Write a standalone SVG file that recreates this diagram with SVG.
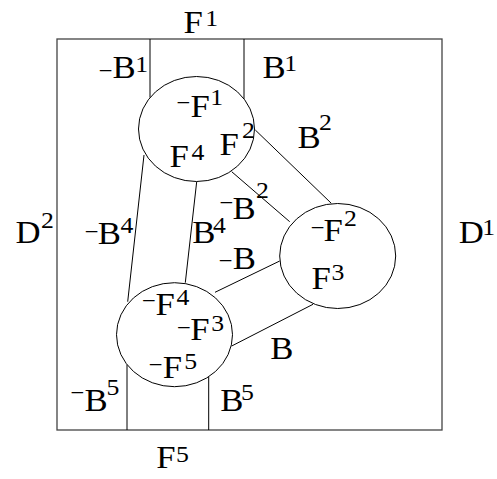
<svg xmlns="http://www.w3.org/2000/svg" width="497" height="479" viewBox="0 0 497 479">
<style>
.t{font-family:"Liberation Serif","Times New Roman",serif;font-size:31px;fill:#000}
.s{font-size:23px}
.d{font-size:20px}
.ln{stroke:#000;stroke-width:1;fill:none}
.fr{stroke:#444;stroke-width:1.3;fill:none}
.nd{stroke:#000;stroke-width:1;fill:#fff}
</style>
<g id="frame">
<rect class="fr" x="57" y="39" width="385" height="391"/>
<line class="ln" x1="150" y1="39" x2="150" y2="97.6"/>
<line class="ln" x1="244" y1="39" x2="244" y2="98.9"/>
<line class="ln" x1="127" y1="364.5" x2="127" y2="430"/>
<line class="ln" x1="208.7" y1="376.7" x2="208.7" y2="430"/>
</g>
<g id="connectors">
<line class="ln" x1="144" y1="155" x2="127.7" y2="301.7"/>
<line class="ln" x1="196.7" y1="181.7" x2="185.3" y2="282.7"/>
<line class="ln" x1="255.3" y1="130" x2="331.3" y2="203.3"/>
<line class="ln" x1="231.7" y1="171.7" x2="289.7" y2="221.7"/>
<line class="ln" x1="215" y1="292.3" x2="279.7" y2="261"/>
<line class="ln" x1="231.7" y1="346" x2="313" y2="304.3"/>
</g>
<g id="node1">
<ellipse class="nd" cx="196.5" cy="129" rx="58" ry="52.5"/>
<text class="t" transform="scale(1.12,1)"><tspan class="d" x="158.7" y="107.7">–</tspan><tspan x="170.1" y="116.7">F</tspan><tspan class="s" x="187.8" y="105">1</tspan></text>
<text class="t" transform="scale(1.12,1)"><tspan x="151.3" y="166.7">F</tspan><tspan class="s" x="170.9" y="160">4</tspan></text>
<text class="t" transform="scale(1.12,1)"><tspan x="196" y="155">F</tspan><tspan class="s" x="216.1" y="138">2</tspan></text>
</g>
<g id="node2">
<ellipse class="nd" cx="337.7" cy="256" rx="58" ry="52.5"/>
<text class="t" transform="scale(1.12,1)"><tspan class="d" x="278.6" y="233.4">–</tspan><tspan x="288.8" y="241">F</tspan><tspan class="s" x="307.1" y="226">2</tspan></text>
<text class="t" transform="scale(1.12,1)"><tspan x="278.1" y="289.3">F</tspan><tspan class="s" x="296" y="280">3</tspan></text>
</g>
<g id="node3">
<ellipse class="nd" cx="174.5" cy="334.7" rx="58" ry="52"/>
<text class="t" transform="scale(1.12,1)"><tspan class="d" x="127.9" y="306.1">–</tspan><tspan x="138.8" y="315">F</tspan><tspan class="s" x="157.5" y="305.5">4</tspan></text>
<text class="t" transform="scale(1.12,1)"><tspan class="d" x="159.2" y="332.7">–</tspan><tspan x="169.8" y="340">F</tspan><tspan class="s" x="188.6" y="331">3</tspan></text>
<text class="t" transform="scale(1.12,1)"><tspan class="d" x="133.9" y="370.4">–</tspan><tspan x="145.4" y="378">F</tspan><tspan class="s" x="164.5" y="369">5</tspan></text>
</g>
<g id="labels">
<text class="t" transform="scale(1.12,1)"><tspan x="163.8" y="33">F</tspan><tspan class="s" x="183.3" y="26">1</tspan></text>
<text class="t" transform="scale(1.12,1)"><tspan class="d" x="89.3" y="76.1">–</tspan><tspan x="100.4" y="78.3">B</tspan><tspan class="s" x="120.8" y="72">1</tspan></text>
<text class="t" transform="scale(1.12,1)"><tspan x="234.4" y="78.3">B</tspan><tspan class="s" x="253.8" y="71">1</tspan></text>
<text class="t" transform="scale(1.12,1)"><tspan x="265.6" y="147.7">B</tspan><tspan class="s" x="284.8" y="130">2</tspan></text>
<text class="t" transform="scale(1.12,1)"><tspan class="d" x="197.1" y="208.4">–</tspan><tspan x="207.6" y="219">B</tspan><tspan class="s" x="228.6" y="198">2</tspan></text>
<text class="t" transform="scale(1.12,1)"><tspan class="d" x="76.8" y="237.1">–</tspan><tspan x="87.3" y="244.3">B</tspan><tspan class="s" x="107.5" y="233">4</tspan></text>
<text class="t" transform="scale(1.12,1)"><tspan x="171.6" y="243.3">B</tspan><tspan class="s" x="190.2" y="233">4</tspan></text>
<text class="t" transform="scale(1.12,1)"><tspan class="d" x="196.4" y="266.1">–</tspan><tspan x="207.9" y="269.3">B</tspan></text>
<text class="t" transform="scale(1.12,1)"><tspan x="241.3" y="359.3">B</tspan></text>
<text class="t" transform="scale(1.12,1)"><tspan class="d" x="64" y="398.4">–</tspan><tspan x="75.4" y="410.7">B</tspan><tspan class="s" x="95.1" y="395">5</tspan></text>
<text class="t" transform="scale(1.12,1)"><tspan x="196.6" y="410.7">B</tspan><tspan class="s" x="215.2" y="400">5</tspan></text>
<text class="t" transform="scale(1.12,1)"><tspan x="139.5" y="468.3">F</tspan><tspan class="s" x="157.1" y="462">5</tspan></text>
<text class="t" transform="scale(1.12,1)"><tspan x="13.8" y="242.7">D</tspan><tspan class="s" x="36.6" y="228">2</tspan></text>
<text class="t" transform="scale(1.12,1)"><tspan x="409.6" y="243.3">D</tspan><tspan class="s" x="430.6" y="235">1</tspan></text>
</g>
</svg>
